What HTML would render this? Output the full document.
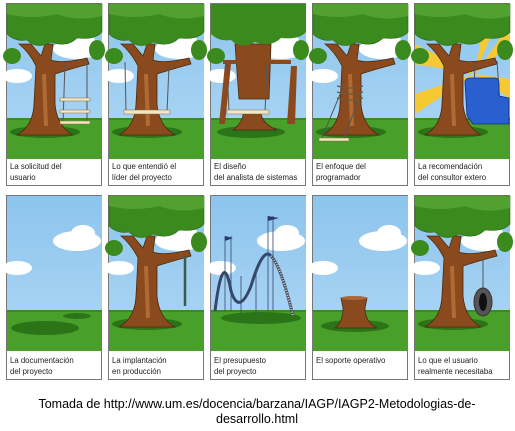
<!DOCTYPE html>
<html><head><meta charset="utf-8"><style>
html,body{margin:0;padding:0;background:#fff;width:515px;height:431px;overflow:hidden}
svg{display:block}
.cap{font-family:"Liberation Sans",sans-serif;font-size:7.8px;fill:#222}
.foot{font-family:"Liberation Sans",sans-serif;font-size:12.5px;fill:#000}
</style></head><body>
<svg width="515" height="431" viewBox="0 0 515 431" xmlns="http://www.w3.org/2000/svg">
<defs>
<linearGradient id="sky" x1="0" y1="0" x2="0" y2="1"><stop offset="0" stop-color="#8cc4ee"/><stop offset="1" stop-color="#b0d8f4"/></linearGradient>
<g id="bg">
<rect x="0" y="0" width="95" height="155" fill="url(#sky)"/>
<rect x="0" y="114" width="95" height="41" fill="#48a02a"/>
<rect x="0" y="114" width="95" height="2" fill="#3d8a24"/>
</g>
<g id="cloud"><ellipse cx="70" cy="45" rx="24" ry="10" fill="#fff"/><ellipse cx="76" cy="37" rx="12" ry="8" fill="#fff"/><ellipse cx="10" cy="72" rx="15" ry="7" fill="#fff"/></g>
<g id="tree">
<ellipse cx="38" cy="128" rx="35" ry="6" fill="#2c7418"/>
<path d="M10 131 Q26 122 27 100 L29 62 Q22 48 12 40 L24 40 L34 52 L38 40 L46 40 L44 56 Q54 60 80 54 L82 60 Q60 66 48 70 L48 100 Q50 122 66 131 Z" fill="#8a4a1e" stroke="#4a2a0e" stroke-width="0.8"/>
<path d="M37 70 L39 122" stroke="#b06a34" stroke-width="4"/>
<path d="M0 0 L95 0 L95 28 Q88 36 70 34 Q60 44 44 38 Q30 46 20 36 Q8 38 0 30 Z" fill="#3a8a1e" stroke="#2a6a14" stroke-width="0.6"/>
<path d="M0 0 L95 0 L95 12 Q70 18 50 10 Q25 16 0 10Z" fill="#52a030"/>
<ellipse cx="5" cy="52" rx="9" ry="8" fill="#3a8a1e"/>
<ellipse cx="90" cy="46" rx="8" ry="10" fill="#3a8a1e"/>
</g>
</defs>

<g fill="#fff" stroke="#777" stroke-width="1">
<rect x="6.5" y="3.5" width="95" height="182"/><rect x="108.5" y="3.5" width="95" height="182"/><rect x="210.5" y="3.5" width="95" height="182"/><rect x="312.5" y="3.5" width="95" height="182"/><rect x="414.5" y="3.5" width="95" height="182"/>
<rect x="6.5" y="195.5" width="95" height="184"/><rect x="108.5" y="195.5" width="95" height="184"/><rect x="210.5" y="195.5" width="95" height="184"/><rect x="312.5" y="195.5" width="95" height="184"/><rect x="414.5" y="195.5" width="95" height="184"/>
</g>

<g transform="translate(7,4)"><use href="#bg"/><use href="#cloud"/><use href="#tree"/>
<path d="M58 58 L56 120 M80 57 L80 120" stroke="#555" stroke-width="1"/>
<rect x="53" y="94" width="30" height="3" fill="#f3e6c0" stroke="#8a6a3a" stroke-width="0.5"/>
<rect x="53" y="106" width="30" height="3" fill="#f3e6c0" stroke="#8a6a3a" stroke-width="0.5"/>
<rect x="53" y="117" width="30" height="3" fill="#f3e6c0" stroke="#8a6a3a" stroke-width="0.5"/>
<text class="cap" x="3" y="165">La solicitud del</text><text class="cap" x="3" y="176">usuario</text></g>

<g transform="translate(109,4)"><use href="#bg"/><use href="#cloud"/><use href="#tree"/>
<path d="M16 58 L17 108 M60 62 L58 108" stroke="#555" stroke-width="1"/>
<rect x="15" y="106" width="46" height="4" fill="#f3e6c0" stroke="#8a6a3a" stroke-width="0.5"/>
<text class="cap" x="3" y="165">Lo que entendió el</text><text class="cap" x="3" y="176">líder del proyecto</text></g>

<g transform="translate(211,4)"><use href="#bg"/><use href="#cloud"/>
<ellipse cx="40" cy="128" rx="34" ry="6" fill="#2c7418"/>
<path d="M24 40 L60 40 L58 95 L28 95 Z" fill="#8a4a1e" stroke="#4a2a0e" stroke-width="0.8"/>
<path d="M22 126 Q32 118 32 110 L50 110 Q52 120 66 126 Z" fill="#8a4a1e" stroke="#4a2a0e" stroke-width="0.8"/>
<path d="M8 120 L14 60 L20 60 L14 120Z M76 120 L80 62 L86 62 L84 120Z" fill="#8a4a1e"/>
<path d="M0 0 L95 0 L95 28 Q88 36 70 34 Q60 44 44 38 Q30 46 20 36 Q8 38 0 30 Z" fill="#3a8a1e"/>
<ellipse cx="5" cy="52" rx="9" ry="8" fill="#3a8a1e"/>
<ellipse cx="90" cy="46" rx="8" ry="10" fill="#3a8a1e"/>
<path d="M12 58 L80 58" stroke="#8a4a1e" stroke-width="4"/>
<path d="M16 60 L18 108 M56 60 L54 108" stroke="#555" stroke-width="1"/>
<rect x="16" y="106" width="42" height="4" fill="#f3e6c0" stroke="#8a6a3a" stroke-width="0.5"/>
<text class="cap" x="3" y="165">El diseño</text><text class="cap" x="3" y="176">del analista de sistemas</text></g>

<g transform="translate(313,4)"><use href="#bg"/><use href="#cloud"/><use href="#tree"/>
<path d="M24 82 Q38 86 50 82 M24 88 Q38 92 50 88 M24 94 Q38 98 50 94" stroke="#6a5a3a" stroke-width="1.2" fill="none"/>
<path d="M28 88 L8 136 M48 90 L30 136" stroke="#555" stroke-width="1"/>
<rect x="6" y="134" width="30" height="3" fill="#f3e6c0" stroke="#8a6a3a" stroke-width="0.5"/>
<text class="cap" x="3" y="165">El enfoque del</text><text class="cap" x="3" y="176">programador</text></g>

<g transform="translate(415,4)"><use href="#bg"/>
<path d="M60 70 L0 40 L0 60 Z M60 70 L0 90 L0 110 Z M60 70 L95 40 L95 20 Z M60 70 L95 95 L95 75Z M60 70 L70 10 L85 10Z" fill="#f6c832"/>
<use href="#tree"/>
<path d="M60 58 L58 115 M82 57 L86 115" stroke="#555" stroke-width="1"/>
<path d="M50 78 Q50 74 56 74 L80 74 Q84 74 84 80 L84 92 L94 94 L94 120 L58 120 L52 112 Z" fill="#2a5fd0" stroke="#12307a" stroke-width="0.8"/>
<text class="cap" x="3" y="165">La recomendación</text><text class="cap" x="3" y="176">del consultor extero</text></g>

<g transform="translate(7,196)"><use href="#bg"/><use href="#cloud"/>
<ellipse cx="38" cy="132" rx="34" ry="7" fill="#2c7418"/><ellipse cx="70" cy="120" rx="14" ry="3" fill="#2c7418"/>
<text class="cap" x="3" y="167">La documentación</text><text class="cap" x="3" y="178">del proyecto</text></g>

<g transform="translate(109,196)"><use href="#bg"/><use href="#cloud"/><use href="#tree"/>
<path d="M76 60 L76 110" stroke="#3a5a4a" stroke-width="2.5"/>
<text class="cap" x="3" y="167">La implantación</text><text class="cap" x="3" y="178">en producción</text></g>

<g transform="translate(211,196)"><use href="#bg"/><use href="#cloud"/>
<ellipse cx="50" cy="122" rx="40" ry="6" fill="#2c7418"/>
<path d="M4 115 Q12 50 20 95 Q28 120 40 90 Q52 50 60 60 Q70 70 82 120" stroke="#37476a" stroke-width="3" fill="none"/>
<path d="M60 60 Q70 70 82 120" stroke="#e8d8a8" stroke-width="2" stroke-dasharray="1 1.5" fill="none"/>
<path d="M14 40 L14 115 M20 40 L20 115 M57 20 L57 115 M62 20 L62 115 M30 80 L30 118 M45 75 L45 118" stroke="#37476a" stroke-width="0.8"/>
<path d="M14 40 L22 42 L14 45Z M57 20 L68 22 L57 25Z" fill="#2a3a6a"/>
<text class="cap" x="3" y="167">El presupuesto</text><text class="cap" x="3" y="178">del proyecto</text></g>

<g transform="translate(313,196)"><use href="#bg"/><use href="#cloud"/>
<ellipse cx="42" cy="130" rx="34" ry="6" fill="#2c7418"/>
<path d="M22 132 Q30 126 30 112 L28 102 L54 102 L52 112 Q52 126 64 132 Z" fill="#8a4a1e" stroke="#4a2a0e" stroke-width="0.8"/>
<ellipse cx="41" cy="102" rx="13" ry="2" fill="#a8683a"/>
<text class="cap" x="3" y="167">El soporte operativo</text></g>

<g transform="translate(415,196)"><use href="#bg"/><use href="#cloud"/><use href="#tree"/>
<path d="M68 58 L68 95" stroke="#555" stroke-width="1"/>
<ellipse cx="68" cy="106" rx="9" ry="14" fill="#555" stroke="#333"/>
<ellipse cx="68" cy="106" rx="4" ry="9" fill="#111"/>
<text class="cap" x="3" y="167">Lo que el usuario</text><text class="cap" x="3" y="178">realmente necesitaba</text></g>

<text class="foot" x="257" y="408" text-anchor="middle">Tomada de http://www.um.es/docencia/barzana/IAGP/IAGP2-Metodologias-de-</text>
<text class="foot" x="257" y="423" text-anchor="middle">desarrollo.html</text>
</svg>
</body></html>
